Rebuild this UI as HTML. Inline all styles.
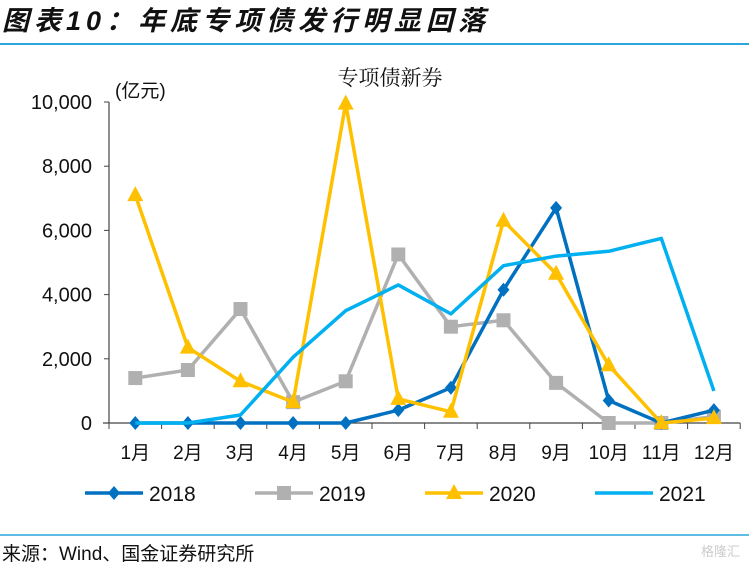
<!DOCTYPE html>
<html><head><meta charset="utf-8"><style>
body{margin:0;background:#fff;width:749px;height:569px;overflow:hidden;font-family:"Liberation Sans","Noto Sans CJK SC",sans-serif}
</style></head><body>
<svg width="749" height="569" xmlns="http://www.w3.org/2000/svg">
<text x="2" y="30" font-size="27" font-weight="bold" font-style="italic" letter-spacing="5" fill="#111" font-family="'Liberation Sans','Noto Sans CJK SC',sans-serif">图表10：年底专项债发行明显回落</text>
<line x1="0" y1="44" x2="749" y2="44" stroke="#2aa6dc" stroke-width="2"/>
<text x="390" y="85" font-size="21" text-anchor="middle" fill="#111" font-family="'Noto Serif CJK SC',serif">专项债新券</text>
<text x="115" y="97" font-size="19" fill="#111">(亿元)</text>
<g id="axes"></g><g id="series"></g>
<g id="legend"></g>
<line x1="0" y1="535" x2="749" y2="535" stroke="#2aa6dc" stroke-width="1.5"/>
<text x="2" y="560" font-size="19" fill="#111">来源：Wind、国金证券研究所</text>
<text x="740" y="556" font-size="13" text-anchor="end" fill="#ccc">格隆汇</text>
</svg>
<script>
const months=["1月","2月","3月","4月","5月","6月","7月","8月","9月","10月","11月","12月"];
const yTicks=[0,2000,4000,6000,8000,10000];
const yTickLabels=["0","2,000","4,000","6,000","8,000","10,000"];
const s2018=[0,0,0,0,0,400,1100,4150,6700,700,0,400];
const s2019=[1400,1650,3550,650,1300,5250,3000,3200,1250,0,0,200];
const s2020=[7100,2350,1300,650,9950,750,350,6300,4650,1800,0,150];
const s2021=[0,0,250,2050,3500,4300,3400,4900,5200,5350,5750,1000];
const NS="http://www.w3.org/2000/svg";
const x0=109,step=52.6,y0=423,yTop=102;
const X=i=>x0+step*(i+0.5);
const Y=v=>y0-(v/10000)*(y0-yTop);
function mk(t,a,p){const e=document.createElementNS(NS,t);for(const k in a)e.setAttribute(k,a[k]);p.appendChild(e);return e;}
const ax=document.getElementById('axes');
const ya=mk('line',{x1:x0,y1:yTop,x2:x0,y2:y0,stroke:'#444','stroke-width':1.2},ax);


yTicks.forEach((v,i)=>{
 const t=mk('line',{x1:x0-5,y1:Y(v),x2:x0,y2:Y(v),stroke:'#444'},ax);
 
 
 const l=mk('text',{x:92,y:Y(v)+7,'font-size':20,'text-anchor':'end',fill:'#111'},ax);l.textContent=yTickLabels[i];
 
 
});
const xa=mk('line',{x1:103,y1:y0,x2:x0+step*12,y2:y0,stroke:'#444','stroke-width':1.2},ax);


for(let i=0;i<=12;i++){const t=mk('line',{x1:x0+step*i,y1:y0,x2:x0+step*i,y2:y0+6,stroke:'#444'},ax);
 
 }
months.forEach((m,i)=>{const l=mk('text',{x:X(i),y:459,'font-size':19,'text-anchor':'middle',fill:'#111'},ax);l.textContent=m;
 
 });
const sg=document.getElementById('series');
function marker(type,x,y,c,p){
 if(type==='diamond')return mk('polygon',{points:`${x},${y-7} ${x+6},${y} ${x},${y+7} ${x-6},${y}`,fill:c},p);
 if(type==='square')return mk('rect',{x:x-7,y:y-7,width:14,height:14,fill:c},p);
 if(type==='triangle')return mk('polygon',{points:`${x},${y-9} ${x+8},${y+6} ${x-8},${y+6}`,fill:c},p);
}
const series=[[s2018,'#0070c0','diamond','2018'],[s2019,'#b0b0b0','square','2019'],[s2020,'#ffc000','triangle','2020'],[s2021,'#00b0f0',null,'2021']];
[1,0,2,3].forEach(k=>{
 const [d,c,mt,name]=series[k];
 const g=mk('g',{},sg);
 
 
 const pl=mk('polyline',{points:d.map((v,i)=>X(i)+','+Y(v)).join(' '),fill:'none',stroke:c,'stroke-width':3.5,'stroke-linejoin':'round'},g);
 
 
 if(mt)d.forEach((v,i)=>{const m=marker(mt,X(i),Y(v),c,g);
  
  });
});
const lg=document.getElementById('legend');
const lx=[85,255,425,595];
series.forEach(([d,c,mt,name],i)=>{
 const g=mk('g',{},lg);
 
 
 mk('line',{x1:lx[i],y1:493,x2:lx[i]+58,y2:493,stroke:c,'stroke-width':3.5},g);
 if(mt)marker(mt,lx[i]+29,493,c,g);
 const t=mk('text',{x:lx[i]+64,y:501,'font-size':21,fill:'#111'},g);t.textContent=name;
});
</script>
</body></html>
